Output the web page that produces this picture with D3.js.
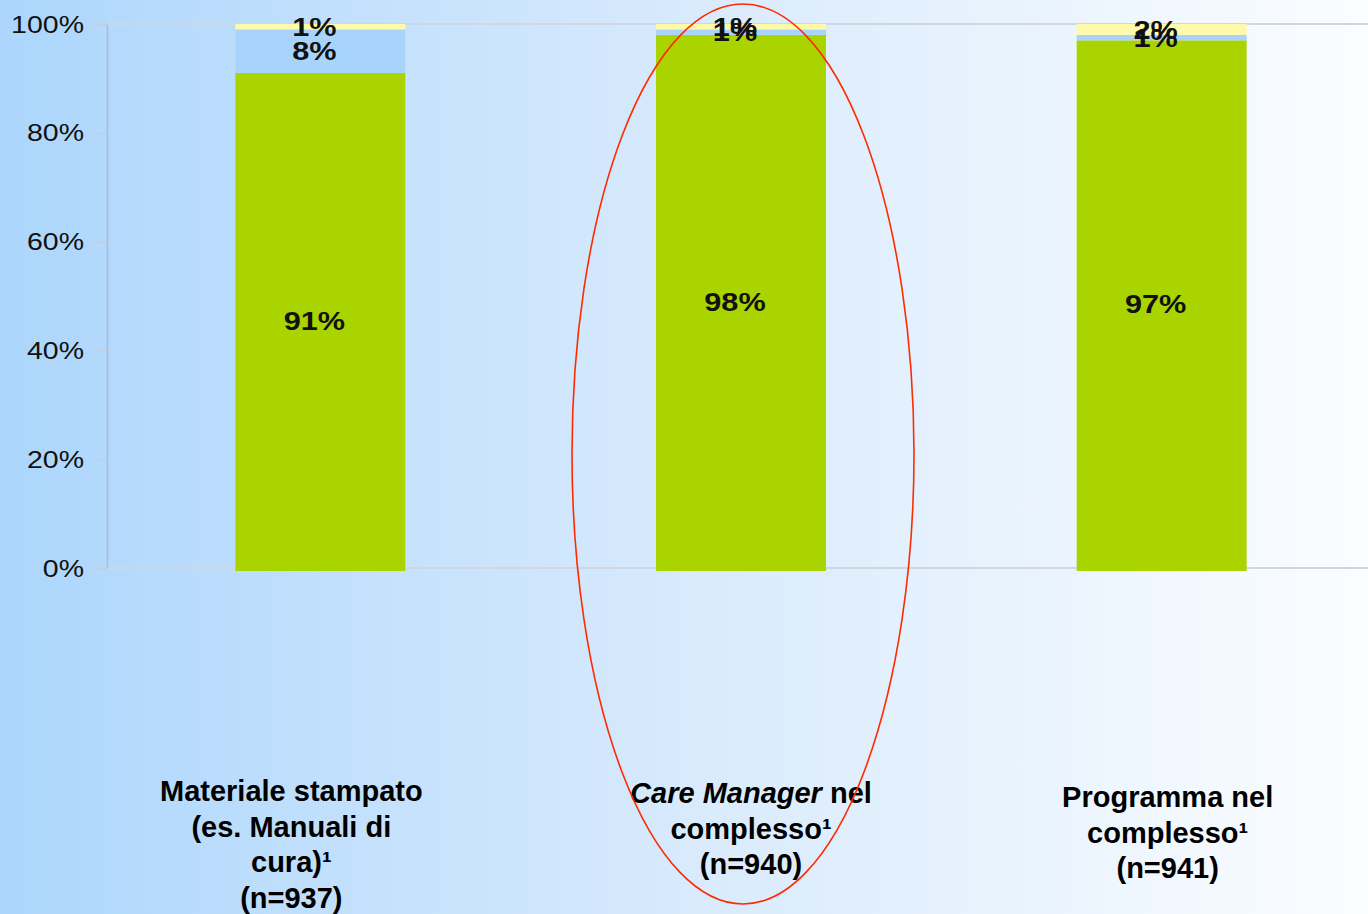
<!DOCTYPE html>
<html>
<head>
<meta charset="utf-8">
<script src="https://cdn.jsdelivr.net/npm/d3@7"></script>
<style>
  html, body { margin: 0; padding: 0; }
  body { width: 1368px; height: 914px; overflow: hidden; }
</style>
</head>
<body>
<div id="chart"></div>
<script>
// categorie e valori (%)
const categories = ["mat", "cm", "prog"];
const greenValues = [91, 98, 97];
const blueValues = [8, 1, 1];
const yellowValues = [1, 1, 2];
const yTicks = [0, 20, 40, 60, 80, 100];

// etichette delle categorie (righe)
const categoryLines = [
    [[{ t: "Materiale stampato" }], [{ t: "(es. Manuali di" }], [{ t: "cura)¹" }], [{ t: "(n=937)" }]],
    [[{ t: "Care Manager", i: true }, { t: " nel" }], [{ t: "complesso¹" }], [{ t: "(n=940)" }]],
    [[{ t: "Programma nel" }], [{ t: "complesso¹" }], [{ t: "(n=941)" }]]
];

const width = 1368;
const height = 914;

const svg = d3.select("#chart").append("svg")
    .attr("width", width)
    .attr("height", height)
    .style("font-family", "'Liberation Sans', Arial, sans-serif");

// sfondo sfumato
const defs = svg.append("defs");
const grad = defs.append("linearGradient")
    .attr("id", "bg")
    .attr("x1", "0%").attr("x2", "100%")
    .attr("y1", "0%").attr("y2", "0%");
grad.append("stop").attr("offset", "0%").attr("stop-color", "#acd6fc");
grad.append("stop").attr("offset", "50%").attr("stop-color", "#d8eafc");
grad.append("stop").attr("offset", "100%").attr("stop-color", "#fbfdff");
svg.append("rect")
    .attr("width", width)
    .attr("height", height)
    .attr("fill", "url(#bg)");

// scale
const x = d3.scaleBand()
    .domain(categories)
    .range([110, 1372])
    .paddingInner(0.596)
    .paddingOuter(0.298);

const y = d3.scaleLinear()
    .domain([0, 100])
    .range([568, 24]);

// griglia (solo 0% e 100%)
svg.append("g").selectAll("line")
    .data([0, 100])
    .join("line")
    .attr("x1", 107)
    .attr("x2", width)
    .attr("y1", d => y(d))
    .attr("y2", d => y(d))
    .attr("stroke", "#cfd8e2")
    .attr("stroke-width", 2);

// asse y
const yAxis = svg.append("g")
    .attr("transform", "translate(107,0)")
    .call(d3.axisLeft(y)
        .tickValues(yTicks)
        .tickFormat(d => d + "%")
        .tickSize(9)
        .tickSizeOuter(0));

yAxis.select(".domain")
    .attr("stroke", "#aebdcc")
    .attr("stroke-width", 1.5);
yAxis.selectAll(".tick line")
    .attr("stroke", "#c4ced8")
    .attr("stroke-width", 1.5);
yAxis.selectAll(".tick text")
    .attr("x", 0)
    .attr("dy", "0.35em")
    .attr("transform", "translate(-23,0) scale(1.24,1)")
    .attr("fill", "#111")
    .style("font-size", "23px");

// dati impilati
const rows = categories.map((c, i) => ({
    cat: c,
    green: greenValues[i],
    blue: blueValues[i],
    yellow: yellowValues[i]
}));
const keys = ["green", "blue", "yellow"];
const colors = { green: "#aad400", blue: "#a8d4fc", yellow: "#fffaaa" };
const stacked = d3.stack().keys(keys)(rows);

const layers = svg.append("g").selectAll("g.layer")
    .data(stacked)
    .join("g")
    .attr("class", "layer")
    .attr("fill", d => colors[d.key]);

layers.selectAll("rect")
    .data(d => d)
    .join("rect")
    .attr("x", d => x(d.data.cat))
    .attr("width", x.bandwidth())
    .attr("y", d => y(d[1]))
    .attr("height", d => y(d[0]) - y(d[1]) + (d[0] === 0 ? 3 : 0));

// etichette dei valori
const labels = svg.append("g");
stacked.forEach(layer => {
    labels.selectAll(null)
        .data(layer)
        .join("text")
        .attr("transform", d => {
            const cx = x(d.data.cat) + x.bandwidth() / 2 - 6;
            const cy = (y(d[0]) + y(d[1])) / 2;
            return `translate(${cx},${cy}) scale(1.18,1)`;
        })
        .attr("text-anchor", "middle")
        .attr("dy", "0.35em")
        .attr("font-weight", "bold")
        .attr("font-size", 26)
        .attr("fill", "#111")
        .text(d => (d[1] - d[0]) + "%");
});

// etichette delle categorie
const labelDx = [-29, 10, 6];
const labelDy = [0, 2, 6];
const catLabels = svg.append("g");
categoryLines.forEach((lines, i) => {
    const cx = x(categories[i]) + x.bandwidth() / 2 + labelDx[i];
    const t = catLabels.append("text")
        .attr("text-anchor", "middle")
        .attr("font-weight", "bold")
        .attr("font-size", 29)
        .attr("fill", "#000");
    lines.forEach((parts, j) => {
        const line = t.append("tspan")
            .attr("x", cx)
            .attr("y", 801 + labelDy[i] + j * 35.5);
        parts.forEach(p => {
            line.append("tspan")
                .attr("font-style", p.i ? "italic" : null)
                .text(p.t);
        });
    });
});

// ellisse rossa di evidenziazione
svg.append("ellipse")
    .attr("cx", x("cm") + x.bandwidth() / 2 + 2)
    .attr("cy", 454)
    .attr("rx", 171)
    .attr("ry", 450)
    .attr("fill", "none")
    .attr("stroke", "#ff2a00")
    .attr("stroke-width", 1.6);
</script>
</body>
</html>
